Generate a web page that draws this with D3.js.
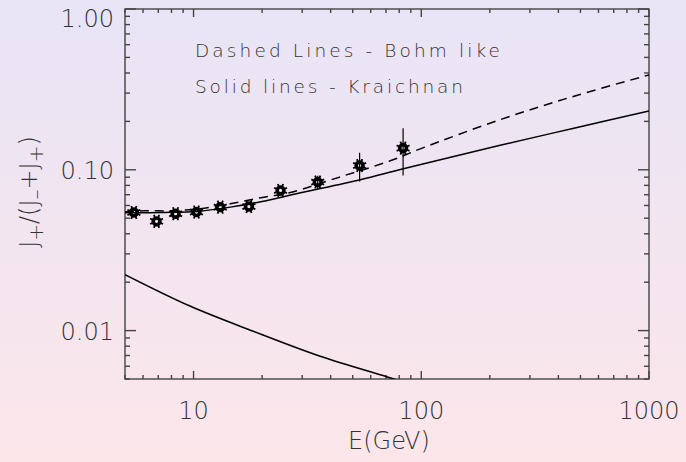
<!DOCTYPE html>
<html>
<head>
<meta charset="utf-8">
<script src="https://cdn.jsdelivr.net/npm/d3@7"></script>
<style>
  html, body { margin: 0; padding: 0; }
  svg { display: block; }
  text { font-family: "DejaVu Sans", sans-serif; font-weight: 200; fill: #333; }
</style>
</head>
<body>
<svg id="chart" width="686" height="462"></svg>
<script>
// ---- data ----
const obsEnergy = [5.47, 6.88, 8.34, 10.3, 13.1, 17.5, 24.1, 35.1, 53.6, 83.2];
const obsRatio  = [0.0543, 0.0478, 0.0533, 0.0546, 0.0586, 0.0591, 0.0744, 0.0839, 0.1063, 0.1364];
const obsLow    = [0.0543, 0.0478, 0.0533, 0.0546, 0.0586, 0.0591, 0.0744, 0.0762, 0.0846, 0.0920];
const obsHigh   = [0.0543, 0.0478, 0.0533, 0.0546, 0.0586, 0.0591, 0.0744, 0.0918, 0.1276, 0.1816];

const kraichnanE = [5, 7.4, 10.4, 14.5, 19.7, 29.5, 54, 83.4, 222, 473, 1000];
const kraichnanR = [0.0541, 0.0543, 0.0551, 0.0586, 0.0633, 0.0719, 0.0867, 0.1014, 0.142, 0.182, 0.232];

const bohmE = [5, 6.16, 7.93, 10.7, 14.5, 19.7, 26.6, 44.2, 73.1, 99, 222, 473, 1000];
const bohmR = [0.0548, 0.0556, 0.0556, 0.0573, 0.0615, 0.067, 0.0723, 0.0905, 0.1137, 0.135, 0.205, 0.288, 0.389];

const lowerE = [5, 9.7, 18.3, 36, 71, 100];
const lowerR = [0.0223, 0.01416, 0.0099, 0.00692, 0.00515, 0.00443];

const xTickLabels = [10, 100, 1000];
const yTickLabels = [0.01, 0.10, 1.00];
const notes = ["Dashed Lines - Bohm like", "Solid lines - Kraichnan"];

// ---- layout ----
const W = 686, H = 462;
const L = 125, T = 9, R = 649, B = 379;
const svg = d3.select("#chart");

const defs = svg.append("defs");
const grad = defs.append("linearGradient").attr("id", "bg")
  .attr("x1", 0).attr("y1", 0).attr("x2", 0).attr("y2", 1);
grad.append("stop").attr("offset", "0%").attr("stop-color", "#e8e4f6");
grad.append("stop").attr("offset", "100%").attr("stop-color", "#fce6ea");
defs.append("clipPath").attr("id", "clip").append("rect")
  .attr("x", L).attr("y", T).attr("width", R - L).attr("height", B - T);

svg.append("rect").attr("width", W).attr("height", H).attr("fill", "url(#bg)");

const x = d3.scaleLog().domain([5, 1000]).range([L, R]);
const y = d3.scaleLog().domain([0.005, 1.0]).range([B, T]);

const xMajor = [10, 100, 1000];
const xMinor = [];
[1, 10, 100].forEach(d => { for (let k = 2; k <= 9; k++) { const v = d * k; if (v >= 5 && v <= 1000) xMinor.push(v); } });
const yMajor = [0.01, 0.1, 1];
const yMinor = [];
[0.001, 0.01, 0.1].forEach(d => { for (let k = 2; k <= 9; k++) { const v = +(d * k).toPrecision(3); if (v >= 0.005 && v <= 1) yMinor.push(v); } });

const axisColor = "#444";
const axG = svg.append("g").attr("stroke", axisColor).attr("stroke-width", 1.4).attr("fill", "none");

function ticks(vals, len, orient) {
  vals.forEach(v => {
    if (orient === "bottom") axG.append("line").attr("x1", x(v)).attr("x2", x(v)).attr("y1", B).attr("y2", B - len);
    if (orient === "top") axG.append("line").attr("x1", x(v)).attr("x2", x(v)).attr("y1", T).attr("y2", T + len);
    if (orient === "left") axG.append("line").attr("y1", y(v)).attr("y2", y(v)).attr("x1", L).attr("x2", L + len);
    if (orient === "right") axG.append("line").attr("y1", y(v)).attr("y2", y(v)).attr("x1", R).attr("x2", R - len);
  });
}
ticks(xMajor, 8, "bottom"); ticks(xMinor, 4, "bottom");
ticks(xMajor, 8, "top");    ticks(xMinor, 4, "top");
ticks(yMajor, 11, "left");  ticks(yMinor, 5, "left");
ticks(yMajor, 11, "right"); ticks(yMinor, 5, "right");
axG.append("rect").attr("x", L).attr("y", T).attr("width", R - L).attr("height", B - T);

// tick labels
svg.append("g").selectAll("text").data(xTickLabels).join("text")
  .attr("x", d => x(d)).attr("y", 419).attr("text-anchor", "middle")
  .attr("font-size", 24).text(d => d3.format("d")(d));
svg.append("g").selectAll("text").data(yTickLabels).join("text")
  .attr("x", 114).attr("y", d => Math.max(y(d), 18) + 9).attr("text-anchor", "end")
  .attr("font-size", 24).text(d => d3.format(".2f")(d));

// axis titles
svg.append("text").attr("x", 389).attr("y", 449).attr("text-anchor", "middle")
  .attr("font-size", 24).text("E(GeV)");
const yl = svg.append("text").attr("transform", "translate(37,192) rotate(-90)")
  .attr("text-anchor", "middle").attr("font-size", 24);
yl.append("tspan").text("J");
yl.append("tspan").attr("baseline-shift", "-30%").attr("font-size", 20).text("+");
yl.append("tspan").text("/(J");
yl.append("tspan").attr("baseline-shift", "-30%").attr("font-size", 20).text("\u2013");
yl.append("tspan").text("+J");
yl.append("tspan").attr("baseline-shift", "-30%").attr("font-size", 20).text("+");
yl.append("tspan").text(")");

// notes
svg.append("g").selectAll("text").data(notes).join("text")
  .attr("x", 195).attr("y", (d, i) => 57 + i * 36)
  .attr("font-size", 18.5)
  .attr("textLength", (d, i) => i === 0 ? 305 : 268)
  .attr("lengthAdjust", "spacing")
  .text(d => d);

// curves
const plot = svg.append("g").attr("clip-path", "url(#clip)");
const line = d3.line().x(d => x(d[0])).y(d => y(d[1])).curve(d3.curveCatmullRom.alpha(0.5));
plot.append("path").datum(kraichnanE.map((e, i) => [e, kraichnanR[i]]))
  .attr("d", line).attr("fill", "none").attr("stroke", "#000").attr("stroke-width", 1.5);
plot.append("path").datum(bohmE.map((e, i) => [e, bohmR[i]]))
  .attr("d", line).attr("fill", "none").attr("stroke", "#000").attr("stroke-width", 1.5)
  .attr("stroke-dasharray", "9,6");
plot.append("path").datum(lowerE.map((e, i) => [e, lowerR[i]]))
  .attr("d", line).attr("fill", "none").attr("stroke", "#000").attr("stroke-width", 1.5);

// error bars
plot.append("g").selectAll("line").data(obsEnergy.map((e, i) => i)).join("line")
  .attr("x1", i => x(obsEnergy[i])).attr("x2", i => x(obsEnergy[i]))
  .attr("y1", i => y(obsLow[i])).attr("y2", i => y(obsHigh[i]))
  .attr("stroke", "#000").attr("stroke-width", 1.2);

// markers
const mk = plot.append("g").selectAll("g").data(obsEnergy.map((e, i) => i)).join("g")
  .attr("transform", i => `translate(${x(obsEnergy[i])},${y(obsRatio[i])})`);
mk.append("circle").attr("r", 3.4).attr("fill", "none").attr("stroke", "#000").attr("stroke-width", 3.6);
d3.range(8).forEach(k => {
  const a = k * Math.PI / 4 + Math.PI / 8;
  mk.append("line")
    .attr("x1", 3.5 * Math.cos(a)).attr("y1", 3.5 * Math.sin(a))
    .attr("x2", 7 * Math.cos(a)).attr("y2", 7 * Math.sin(a))
    .attr("stroke", "#000").attr("stroke-width", 1.8);
});
</script>
</body>
</html>
